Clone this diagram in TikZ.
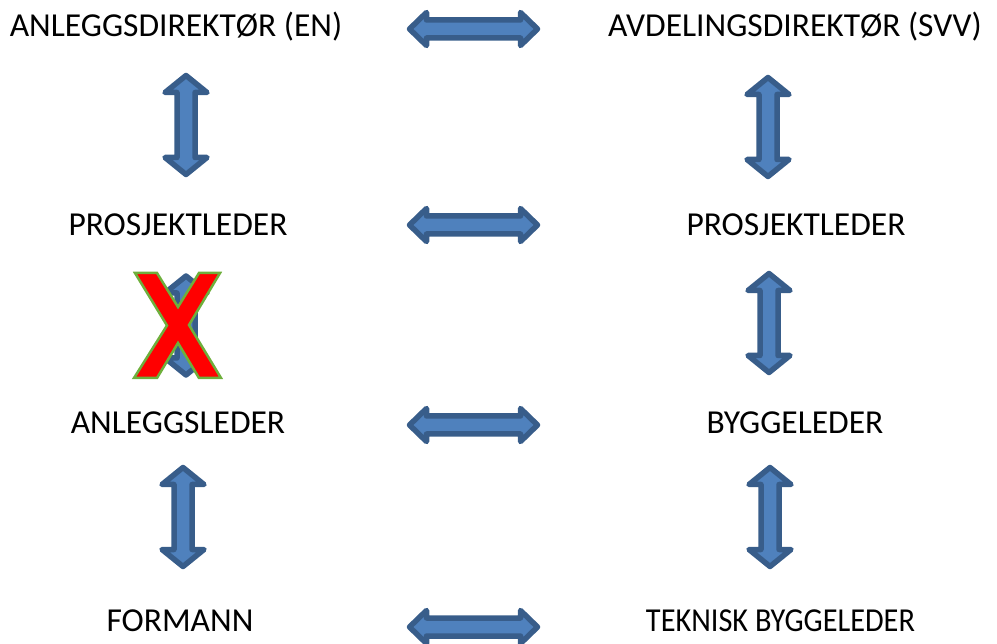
\documentclass[tikz,border=0pt]{standalone}
\usepackage{fontspec}
\setmainfont{Carlito}
\definecolor{afill}{RGB}{79,129,189}
\definecolor{aline}{RGB}{56,93,138}
\definecolor{xgreen}{RGB}{110,175,60}
\definecolor{xred}{RGB}{255,0,0}
\tikzset{
  blockarrow/.style={fill=afill, draw=aline, line width=5.5pt, line join=round},
  lbl/.style={font=\fontsize{33.5}{33.5}\selectfont, inner sep=0pt, anchor=base},
  crossmark/.style={fill=xred, draw=xgreen, line width=2.5pt, line join=miter}
}
\newcommand\HArrow[2]{%
  \begin{scope}[shift={(#1,#2)}]
    \draw[blockarrow] (-64,0) -- (-47,-16.5) -- (-47,-9) -- (47,-9) -- (47,-16.5) -- (64,0)
      -- (47,16.5) -- (47,9) -- (-47,9) -- (-47,16.5) -- cycle;
  \end{scope}}
\newcommand\VArrow[2]{%
  \begin{scope}[shift={(#1,#2)}]
    \draw[blockarrow] (0,-49.5) -- (21,-32.5) -- (9,-32.5) -- (9,32.5) -- (21,32.5) -- (0,49.5)
      -- (-21,32.5) -- (-9,32.5) -- (-9,-32.5) -- (-21,-32.5) -- cycle;
  \end{scope}}
\begin{document}
\begin{tikzpicture}[x=1pt,y=-1pt]
\useasboundingbox (0,0) rectangle (997,644);
% labels
\node[lbl] (l1) at (176,37) {ANLEGGSDIREKTØR (EN)};
\node[lbl] (l2) at (178,236) {PROSJEKTLEDER};
\node[lbl] (l3) at (178,434) {ANLEGGSLEDER};
\node[lbl] (l4) at (180,631) {FORMANN};
\node[lbl] (r1) at (795,37) {AVDELINGSDIREKTØR (SVV)};
\node[lbl] (r2) at (796,236) {PROSJEKTLEDER};
\node[lbl] (r3) at (795,434) {BYGGELEDER};
\node[lbl] (r4) at (780.5,631) {\scalebox{0.905}[1]{TEKNISK BYGGELEDER}};
% horizontal arrows
\HArrow{473.5}{29}
\HArrow{473.5}{225}
\HArrow{473.5}{425}
\HArrow{473.5}{627}
% vertical arrows
\VArrow{186}{125}
\VArrow{186}{325.5}
\VArrow{183}{517}
\VArrow{768}{127}
\VArrow{769}{323}
\VArrow{770}{517}
% cross
\draw[crossmark] (135,273) -- (157,273) -- (178,307) -- (199,273) -- (220,273) -- (189,325)
  -- (221,378) -- (199,378) -- (178,343) -- (157,378) -- (134,378) -- (167,325.5) -- cycle;
\end{tikzpicture}
\end{document}
